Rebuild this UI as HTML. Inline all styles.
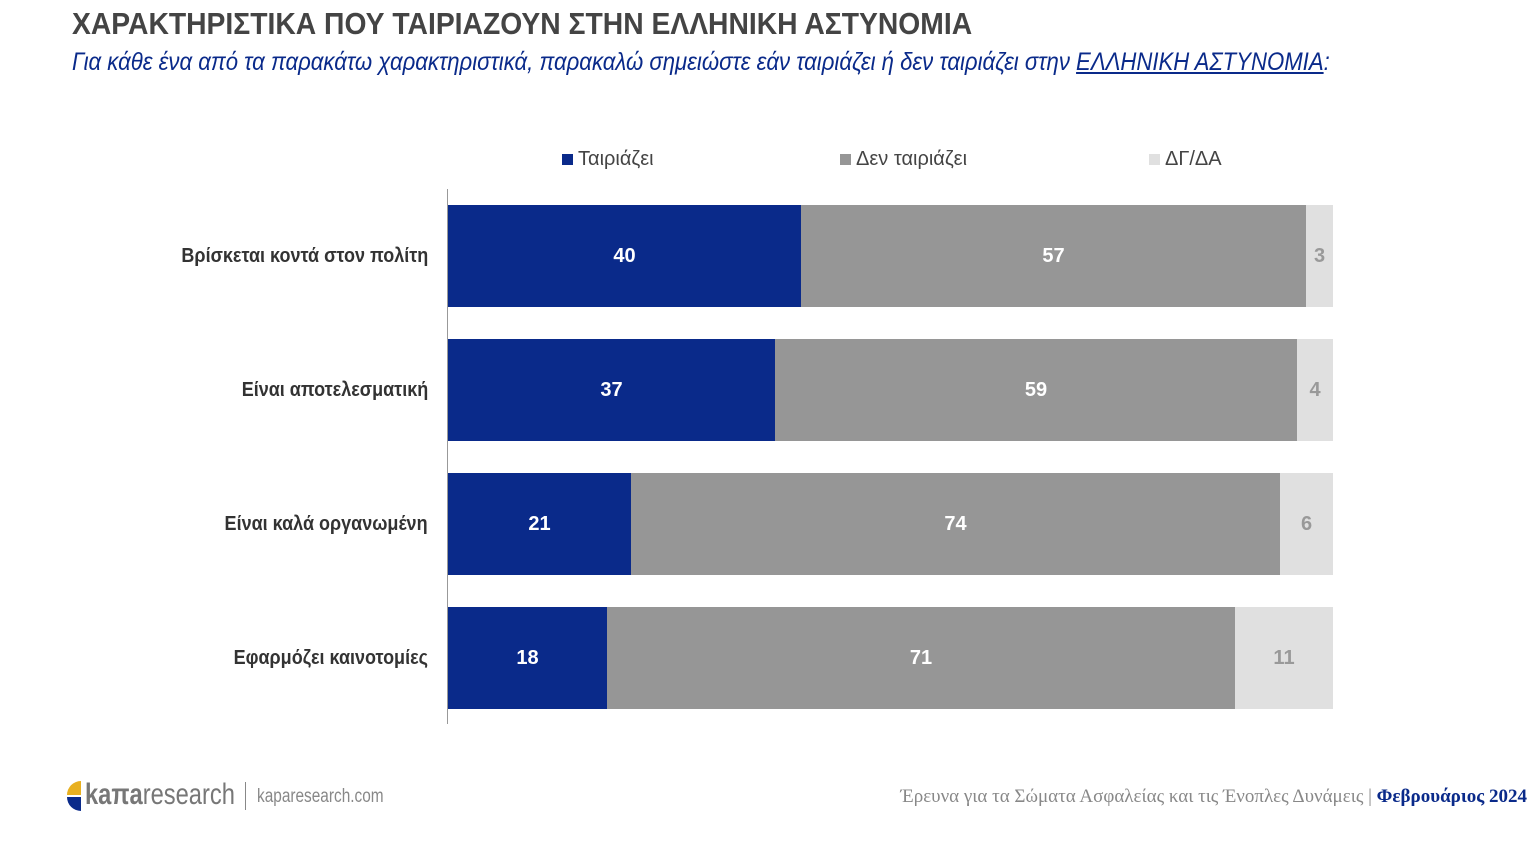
<!DOCTYPE html>
<html><head><meta charset="utf-8"><style>
body{margin:0;width:1537px;height:849px;background:#fff;position:relative;overflow:hidden;font-family:"Liberation Sans",sans-serif}
.a{position:absolute;white-space:nowrap}
.bar{position:absolute;height:102px;display:flex;align-items:center;justify-content:center;font-weight:bold;font-size:20px}
.lab{position:absolute;right:1109px;font-weight:bold;font-size:20px;color:#333;height:102px;line-height:102px;transform:scaleX(0.9);transform-origin:right center}
</style></head><body>
<div class="a" style="left:72px;top:6px;font-size:31px;font-weight:bold;color:#444;transform:scaleX(0.912);transform-origin:left">ΧΑΡΑΚΤΗΡΙΣΤΙΚΑ ΠΟΥ ΤΑΙΡΙΑΖΟΥΝ ΣΤΗΝ ΕΛΛΗΝΙΚΗ ΑΣΤΥΝΟΜΙΑ</div>
<div class="a" style="left:72px;top:48px;font-size:25px;font-style:italic;color:#0a2a8a;transform:scaleX(0.886);transform-origin:left">Για κάθε ένα από τα παρακάτω χαρακτηριστικά, παρακαλώ σημειώστε εάν ταιριάζει ή δεν ταιριάζει στην <u>ΕΛΛΗΝΙΚΗ ΑΣΤΥΝΟΜΙΑ</u>:</div>
<div class="a" style="left:562px;top:148px;font-size:20px;color:#444"><span style="display:inline-block;width:11px;height:11px;background:#0a2a8a;margin-right:5px"></span>Ταιριάζει</div>
<div class="a" style="left:840px;top:148px;font-size:20px;color:#444"><span style="display:inline-block;width:11px;height:11px;background:#969696;margin-right:5px"></span>Δεν ταιριάζει</div>
<div class="a" style="left:1149px;top:148px;font-size:20px;color:#444"><span style="display:inline-block;width:11px;height:11px;background:#e0e0e0;margin-right:5px"></span>ΔΓ/ΔΑ</div>
<div class="a" style="left:447px;top:189px;width:1px;height:535px;background:#999"></div>

<div class="lab" style="top:205px">Βρίσκεται κοντά στον πολίτη</div>
<div class="bar" style="top:205px;left:448px;width:353px;background:#0a2a8a;color:#fff">40</div>
<div class="bar" style="top:205px;left:801px;width:505px;background:#969696;color:#fff">57</div>
<div class="bar" style="top:205px;left:1306px;width:27px;background:#e0e0e0;color:#999">3</div>

<div class="lab" style="top:339px">Είναι αποτελεσματική</div>
<div class="bar" style="top:339px;left:448px;width:327px;background:#0a2a8a;color:#fff">37</div>
<div class="bar" style="top:339px;left:775px;width:522px;background:#969696;color:#fff">59</div>
<div class="bar" style="top:339px;left:1297px;width:36px;background:#e0e0e0;color:#999">4</div>

<div class="lab" style="top:473px">Είναι καλά οργανωμένη</div>
<div class="bar" style="top:473px;left:448px;width:183px;background:#0a2a8a;color:#fff">21</div>
<div class="bar" style="top:473px;left:631px;width:649px;background:#969696;color:#fff">74</div>
<div class="bar" style="top:473px;left:1280px;width:53px;background:#e0e0e0;color:#999">6</div>

<div class="lab" style="top:607px">Εφαρμόζει καινοτομίες</div>
<div class="bar" style="top:607px;left:448px;width:159px;background:#0a2a8a;color:#fff">18</div>
<div class="bar" style="top:607px;left:607px;width:628px;background:#969696;color:#fff">71</div>
<div class="bar" style="top:607px;left:1235px;width:98px;background:#e0e0e0;color:#999">11</div>

<div class="a" style="left:67px;top:781px;width:14px;height:14px;background:#e8b020;border-radius:14px 0 0 0"></div>
<div class="a" style="left:67px;top:797px;width:14px;height:14px;background:#0a2a8a;border-radius:0 0 0 14px"></div>
<div class="a" style="left:85px;top:778px;font-size:30px;color:#777;transform:scaleX(0.79);transform-origin:left"><b>kaπa</b>research</div>
<div class="a" style="left:245px;top:782px;width:1px;height:28px;background:#888"></div>
<div class="a" style="left:257px;top:786px;font-size:19px;color:#888;transform:scaleX(0.81);transform-origin:left">kaparesearch.com</div>
<div class="a" style="right:10px;top:786px;font-size:19px;font-family:'Liberation Serif',serif;color:#888">Έρευνα για τα Σώματα Ασφαλείας και τις Ένοπλες Δυνάμεις | <b style="color:#0a2a8a">Φεβρουάριος 2024</b></div>
</body></html>
